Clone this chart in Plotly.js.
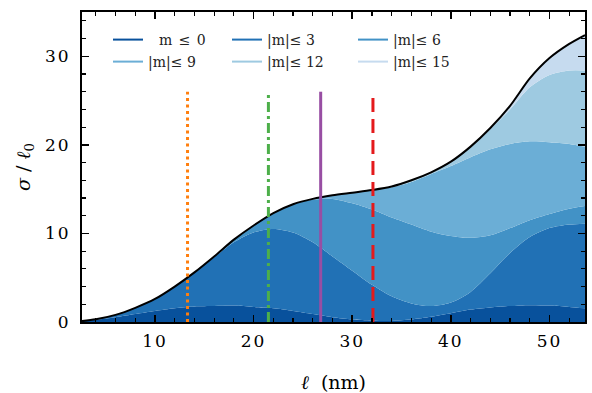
<!DOCTYPE html>
<html>
<head>
<meta charset="utf-8">
<script src="https://cdn.plot.ly/plotly-3.0.1.min.js"></script>
<style>
html,body{margin:0;padding:0;background:#fff;}
#chart{width:592px;height:393px;}
.xtick text, .ytick text {letter-spacing:2px;}
.legendtext {letter-spacing:1px;}
</style>
</head>
<body>
<div id="chart"></div>
<script>
// wavelength grid (nm)
const ell = [2.6, 4, 6, 8, 10, 12, 14, 16, 18, 20, 22, 24, 26, 28, 30, 32, 34, 36, 38, 40, 42, 44, 46, 48, 50, 52, 53.6];

// cumulative cross-section boundaries
const m0  = [0.1, 0.25, 0.55, 0.9, 1.25, 1.55, 1.75, 1.8, 1.85, 1.7, 1.55, 1.25, 0.9, 0.55, 0.3, 0.15, 0.12, 0.3, 0.6, 1.0, 1.4, 1.65, 1.8, 1.9, 1.85, 1.7, 1.55];
const m3  = [0.1, 0.3, 0.8, 1.6, 2.6, 4.0, 5.6, 7.3, 9.0, 10.1, 10.5, 10.1, 9.0, 7.4, 5.8, 4.2, 2.9, 2.1, 1.8, 2.2, 3.4, 5.5, 7.8, 9.6, 10.6, 11.0, 11.1];
const m6  = [0.1, 0.3, 0.8, 1.6, 2.6, 4.0, 5.6, 7.4, 9.3, 10.9, 12.3, 13.3, 13.8, 13.9, 13.4, 12.7, 11.8, 11.0, 10.2, 9.7, 9.5, 9.8, 10.6, 11.5, 12.2, 12.8, 13.1];
const m9  = [0.1, 0.3, 0.8, 1.6, 2.6, 4.0, 5.6, 7.4, 9.3, 10.9, 12.3, 13.3, 13.9, 14.3, 14.6, 14.9, 15.2, 15.8, 16.7, 17.6, 18.6, 19.5, 20.1, 20.4, 20.3, 20.1, 19.8];
const m12 = [0.1, 0.3, 0.8, 1.6, 2.6, 4.0, 5.6, 7.4, 9.3, 10.9, 12.3, 13.3, 13.9, 14.3, 14.6, 14.9, 15.3, 16.0, 16.9, 18.1, 19.8, 21.8, 24.0, 26.5, 27.9, 28.4, 28.4];
const m15 = [0.1, 0.3, 0.8, 1.6, 2.6, 4.0, 5.6, 7.4, 9.3, 10.9, 12.3, 13.3, 13.9, 14.3, 14.6, 14.9, 15.3, 16.0, 16.9, 18.1, 19.8, 21.9, 24.4, 27.5, 29.8, 31.4, 32.4];

const layerNames  = ['\u00a0\u00a0m \u2264 0', '|m|\u2264 3', '|m|\u2264 6', '|m|\u2264 9', '|m|\u2264 12', '|m|\u2264 15'];
const layerColors = ['#08519c', '#2171b5', '#4292c6', '#6baed6', '#9ecae1', '#c6dbef'];
const layers = [m0, m3, m6, m9, m12, m15];

// marker lines
const vlineX      = [13.3, 21.5, 26.8, 32.1];
const vlineTop    = 26;
const vlineColors = ['#ff7f0e', '#4daf4a', '#984ea3', '#e41a1c'];
const vlineDash   = ['3px,3.5px', '10px,4px,3px,4px', 'solid', '14px,7px'];

const traces = [];
layers.forEach((ys, i) => {
  traces.push({
    x: ell, y: ys, type: 'scatter', mode: 'lines',
    line: {width: 0, shape: 'spline', smoothing: 0.8, color: layerColors[i]},
    fill: i === 0 ? 'tozeroy' : 'tonexty',
    fillcolor: layerColors[i],
    showlegend: false, hoverinfo: 'skip'
  });
});
traces.push({
  x: ell, y: m15, type: 'scatter', mode: 'lines',
  line: {width: 2, color: '#000', shape: 'spline', smoothing: 0.8},
  showlegend: false
});
vlineX.forEach((xv, i) => {
  traces.push({
    x: [xv, xv], y: [0, vlineTop], type: 'scatter', mode: 'lines',
    line: {width: 3, color: vlineColors[i], dash: vlineDash[i]},
    showlegend: false
  });
});
const legendIds = ['legend', 'legend2', 'legend3', 'legend4', 'legend5', 'legend6'];
layerNames.forEach((n, i) => {
  traces.push({
    x: [null], y: [null], type: 'scatter', mode: 'lines',
    name: n, line: {width: 2, color: layerColors[i]},
    showlegend: true, legend: legendIds[i]
  });
});

const fontFam = 'DejaVu Serif, serif';
const colX = [0.0517, 0.2883, 0.5388];
const rowY = [0.9097, 0.8387];
const layout = {
  width: 592, height: 393,
  margin: {l: 82, r: 7, t: 12, b: 71},
  paper_bgcolor: '#fff', plot_bgcolor: '#fff',
  font: {family: fontFam, size: 17, color: '#000'},
  showlegend: true,
  xaxis: {
    range: [2.6, 53.6], tickvals: [10, 20, 30, 40, 50],
    ticks: 'inside', ticklen: 7, tickwidth: 1.5, tickcolor: '#000',
    minor: {dtick: 2, tick0: 0, ticks: 'inside', ticklen: 4, tickwidth: 1.2, tickcolor: '#000'},
    showline: true, linecolor: '#000', linewidth: 2, mirror: 'allticks',
    showgrid: false, zeroline: false, ticklabelstandoff: 3,
    tickfont: {family: fontFam, size: 17},
    title: {text: '<i>\u2113</i>  (nm)', font: {family: fontFam, size: 19}, standoff: 26}
  },
  yaxis: {
    range: [0, 35], tickvals: [0, 10, 20, 30],
    ticks: 'inside', ticklen: 7, tickwidth: 1.5, tickcolor: '#000',
    minor: {dtick: 2, tick0: 0, ticks: 'inside', ticklen: 4, tickwidth: 1.2, tickcolor: '#000'},
    showline: true, linecolor: '#000', linewidth: 2, mirror: 'allticks',
    showgrid: false, zeroline: false, ticklabelstandoff: 6,
    tickfont: {family: fontFam, size: 17},
    title: {text: '<i>\u03c3</i> / <i>\u2113</i><sub>0</sub>', font: {family: fontFam, size: 19}, standoff: 9}
  }
};
legendIds.forEach((id, i) => {
  layout[id] = {
    x: colX[i % 3], y: rowY[Math.floor(i / 3)], xanchor: 'left', yanchor: 'middle',
    orientation: 'v', bgcolor: 'rgba(0,0,0,0)', borderwidth: 0,
    font: {family: fontFam, size: 14, color: '#222'}
  };
});

Plotly.newPlot('chart', traces, layout, {staticPlot: true, displayModeBar: false});
</script>
</body>
</html>
